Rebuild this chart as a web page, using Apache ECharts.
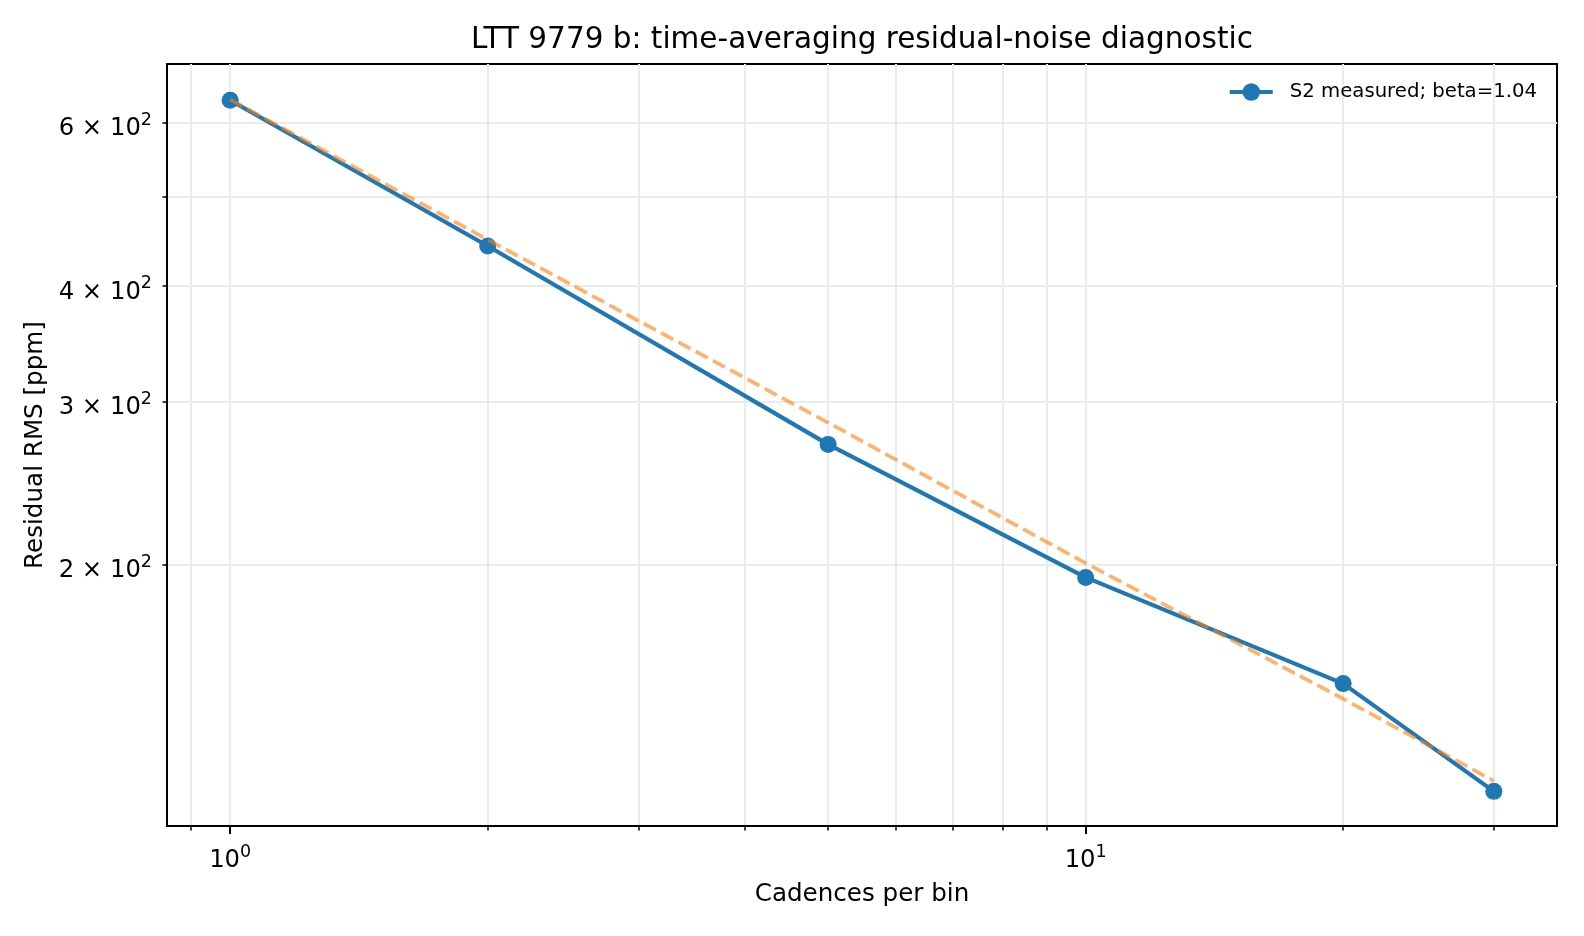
<!DOCTYPE html>
<html>
<head>
<meta charset="utf-8">
<script src="https://cdn.jsdelivr.net/npm/echarts@6/dist/echarts.min.js"></script>
<style>
  html, body { margin: 0; padding: 0; background: #fff; }
  #chart { width: 1584px; height: 936px; }
</style>
</head>
<body>
<div id="chart"></div>
<script>
// ---- data ----
const cadences = [1, 2, 5, 10, 20, 30];
const rmsMeasured = [635, 442, 270, 194, 149, 114];
const rmsFit = [636, 449, 285, 201, 143.5, 117];
const xMajorTicks = [1, 10];
const xMinorTicks = [0.9, 2, 3, 4, 5, 6, 7, 8, 9, 20, 30];
const yTicks = [200, 300, 400, 500, 600];
const yLabelTicks = [200, 300, 400, 600];
const titleText = 'LTT 9779 b: time-averaging residual-noise diagnostic';
const xName = 'Cadences per bin';
const yName = 'Residual RMS [ppm]';
const seriesName = 'S2 measured; beta=1.04';

const FONT = 'DejaVu Sans';
function xFmt(v) { return '{b|10}{s|' + Math.round(Math.log10(v)) + '}'; }
function yFmt(v) {
  const e = Math.floor(Math.log10(v) + 1e-9);
  const m = Math.round(v / Math.pow(10, e));
  return '{b|' + m + ' \u00d7 10}{s|' + e + '}';
}
const richSup = {
  b: { fontFamily: FONT, fontSize: 24.3, color: '#000', lineHeight: 30, verticalAlign: 'bottom' },
  s: { fontFamily: FONT, fontSize: 17.5, color: '#000', lineHeight: 16, verticalAlign: 'top' }
};

const xMin = 0.8436, xMax = 35.56, yMin = 104.6, yMax = 694.8;
const gridColor = '#ebebeb';

const chart = echarts.init(document.getElementById('chart'), null, {renderer: 'canvas'});
chart.setOption({
  animation: false,
  backgroundColor: '#fff',
  textStyle: { fontFamily: FONT },
  title: {
    text: titleText,
    left: 862, top: 25, padding: 0,
    textAlign: 'center',
    textStyle: { fontFamily: FONT, fontSize: 29.5, fontWeight: 'normal', color: '#000' }
  },
  legend: {
    data: [seriesName],
    right: 47, top: 82, padding: 0,
    itemWidth: 43, itemHeight: 22,
    lineStyle: { width: 4.2, color: '#1f77b4' },
    textStyle: { fontFamily: FONT, fontSize: 19.7, color: '#000', padding: [0, 0, 0, 12] }
  },
  grid: {
    left: 167, right: 27, top: 64, bottom: 110,
    show: true, borderColor: '#000', borderWidth: 2, backgroundColor: 'transparent'
  },
  xAxis: [
    {
      type: 'log', logBase: 10, min: xMin, max: xMax, position: 'bottom',
      name: xName, nameLocation: 'middle', nameGap: 56,
      nameTextStyle: { fontFamily: FONT, fontSize: 24.6, color: '#000' },
      axisLine: { show: true, lineStyle: { color: '#000', width: 2 } },
      axisTick: { show: true, customValues: xMajorTicks, length: 8, lineStyle: { color: '#000', width: 2 } },
      axisLabel: { show: true, customValues: xMajorTicks, formatter: xFmt, margin: 17,
        fontFamily: FONT, fontSize: 24.3, color: '#000', rich: richSup },
      splitLine: { show: true, lineStyle: { color: gridColor, width: 2 } }
    },
    {
      type: 'log', logBase: 10, min: xMin, max: xMax, position: 'bottom',
      axisLine: { show: false },
      axisTick: { show: true, customValues: xMinorTicks, length: 4.5, lineStyle: { color: '#000', width: 1.5 } },
      axisLabel: { show: false },
      splitLine: { show: true, lineStyle: { color: gridColor, width: 2 } }
    }
  ],
  yAxis: [
    {
      type: 'log', logBase: 10, min: yMin, max: yMax, position: 'left',
      name: yName, nameLocation: 'middle', nameGap: 116, nameRotate: 90,
      nameTextStyle: { fontFamily: FONT, fontSize: 24.6, color: '#000' },
      axisLine: { show: true, lineStyle: { color: '#000', width: 2 } },
      axisTick: { show: true, customValues: yTicks, length: 4.5, lineStyle: { color: '#000', width: 1.5 } },
      axisLabel: { show: true, customValues: yLabelTicks, formatter: yFmt, margin: 15,
        padding: [6, 0, 0, 0],
        fontFamily: FONT, fontSize: 24.3, color: '#000', rich: richSup },
      splitLine: { show: true, lineStyle: { color: gridColor, width: 2 } }
    }
  ],
  series: [
    {
      name: seriesName, type: 'line', xAxisIndex: 0, yAxisIndex: 0,
      data: cadences.map((c, i) => [c, rmsMeasured[i]]),
      symbol: 'circle', symbolSize: 17, showSymbol: true,
      lineStyle: { color: '#1f77b4', width: 4.2 },
      itemStyle: { color: '#1f77b4' },
      z: 2
    },
    {
      name: 'fit', type: 'line', xAxisIndex: 0, yAxisIndex: 0,
      data: cadences.map((c, i) => [c, rmsFit[i]]),
      symbol: 'none', showSymbol: false,
      lineStyle: { color: 'rgba(255,127,14,0.6)', width: 3.7, type: [13.7, 5.9] },
      z: 3
    }
  ]
});
</script>
</body>
</html>
